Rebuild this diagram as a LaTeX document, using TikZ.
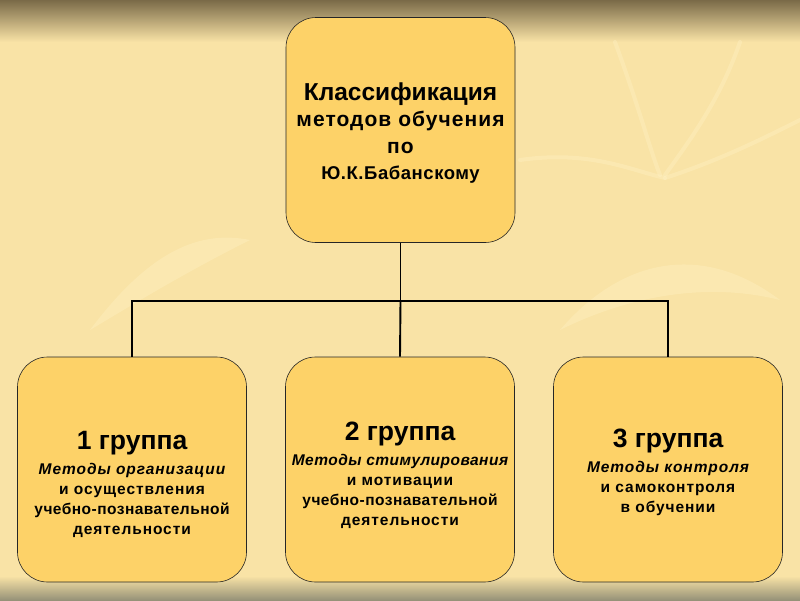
\documentclass[tikz,border=0pt]{standalone}
\usepackage{fontspec}
\setmainfont{Liberation Sans}
\usetikzlibrary{calc}
\definecolor{boxfill}{RGB}{253,210,104}
\definecolor{bgmid}{RGB}{249,227,166}
\definecolor{bgtop}{RGB}{122,106,72}
\definecolor{bgbot}{RGB}{150,146,120}
\definecolor{leaf}{RGB}{255,243,198}
\tikzset{
  groupbox/.style={draw=black!85,fill=boxfill,line width=.6pt,rounded corners=30pt,
    minimum width=229pt,minimum height=225pt,inner sep=0pt},
  grouptext/.style={align=center,font=\fontsize{15.5}{20}\selectfont\bfseries},
  link/.style={line width=1.9pt,black}
}
\newcommand{\grouptitle}[1]{{\fontsize{26.5}{30}\selectfont #1}\\[5pt]}
\begin{document}
\begin{tikzpicture}[x=1pt,y=-1pt]
		% background
		\useasboundingbox (0,0) rectangle (800,600);
		\fill[bgmid] (0,0) rectangle (800,600);
		\shade[top color=bgtop,bottom color=bgmid] (0,0) rectangle (800,42);
		\shade[top color=bgmid,bottom color=bgbot] (0,576) rectangle (800,600);
		\begin{scope}[leaf,opacity=.35,line width=4pt,line cap=round]
			\draw (615,42) .. controls (640,110) and (650,150) .. (660,175);
			\draw (740,42) .. controls (720,100) and (690,140) .. (665,175);
			\draw (520,160) .. controls (590,150) and (630,170) .. (665,178);
			\draw (665,178) .. controls (720,160) and (760,140) .. (800,120);
			\fill (560,330) .. controls (620,260) and (700,240) .. (780,300) .. controls (700,280) and (620,300) .. cycle;
			\fill (90,330) .. controls (150,250) and (200,230) .. (250,240) .. controls (190,270) and (140,300) .. cycle;
		\end{scope}
		% boxes
		\path
		(400.5,130) coordinate (T)
		(132,469.5) coordinate (A)
		(400,469.5) coordinate (B)
		(668,469.5) coordinate (C)
		(400.5,301) coordinate (fork);
		\node[groupbox] (top) at (T) {};
		\node[groupbox] (g1) at (A) {};
		\node[groupbox] (g2) at (B) {};
		\node[groupbox] (g3) at (C) {};
		\node[grouptext,font=\fontsize{21}{26.5}\selectfont\bfseries] (toptext) at ($(T)+(0,3)$)
			{{\fontsize{24.5}{28}\selectfont Классификация}\\
			 {\addfontfeature{LetterSpace=5}методов обучения}\\
			 {\addfontfeature{LetterSpace=5}по}\\
			 {\fontsize{18.5}{22}\selectfont\addfontfeature{LetterSpace=3}Ю.К.Бабанскому}};
		\node[grouptext] (g1text) at ($(A)+(0,15)$)
			{\grouptitle{1 группа}
			 {\itshape\addfontfeature{LetterSpace=6}Методы организации}\\
			 {\addfontfeature{LetterSpace=6}и осуществления}\\
			 {\addfontfeature{LetterSpace=3}учебно-познавательной}\\
			 {\addfontfeature{LetterSpace=6}деятельности}};
		\node[grouptext] (g2text) at ($(B)+(0,6)$)
			{\grouptitle{2 группа}
			 {\itshape\addfontfeature{LetterSpace=3}Методы стимулирования}\\
			 {\addfontfeature{LetterSpace=6}и мотивации}\\
			 {\addfontfeature{LetterSpace=3}учебно-познавательной}\\
			 {\addfontfeature{LetterSpace=6}деятельности}};
		\node[grouptext] (g3text) at ($(C)+(0,3)$)
			{\grouptitle{3 группа}
			 {\itshape\addfontfeature{LetterSpace=6}Методы контроля}\\
			 {\addfontfeature{LetterSpace=6}и самоконтроля}\\
			 {\addfontfeature{LetterSpace=6}в обучении}};
		% connectors
		\draw[link] (top.south) -- (fork);
		\draw[link] (g1.north) |- (fork) -| (g3.north);
		\draw[link] (fork) -- (g2.north);
	\end{tikzpicture}
\end{document}
